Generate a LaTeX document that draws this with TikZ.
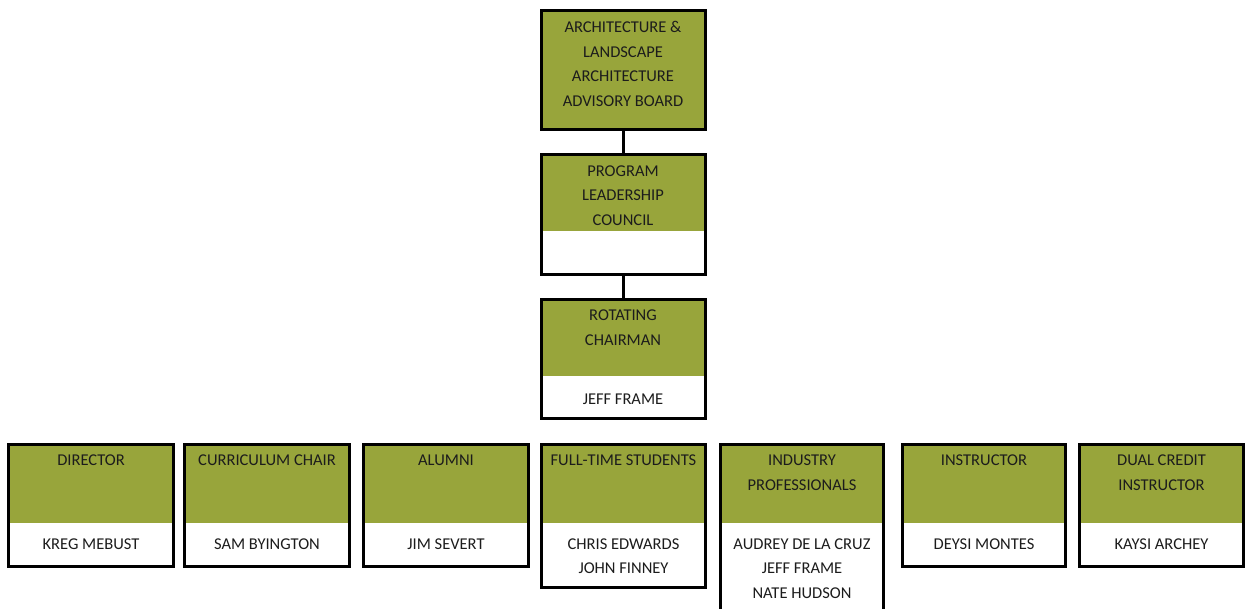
\documentclass[tikz,border=0pt]{standalone}
\usepackage{fontspec}
\setmainfont{Carlito}
\definecolor{board}{RGB}{152,165,59}
\definecolor{ink}{RGB}{28,28,28}
\tikzset{
  orgbox/.style={draw=black, line width=3pt, inner sep=0pt, outer sep=0pt,
    minimum width=164pt},
  band/.style={path picture={\fill[board] (path picture bounding box.north west)
      rectangle ([yshift=-#1pt]path picture bounding box.north east);}},
  % labels are anchored at the baseline of their last line
  label/.style={anchor=base, align=center, inner sep=0pt, text=ink,
    font=\fontsize{16.5}{24.5}\selectfont},
  link/.style={draw=black, line width=3pt}
}
\begin{document}
\begin{tikzpicture}[x=1pt,y=-1pt]
\clip (0,0) rectangle (1251,609);
\fill[white] (0,0) rectangle (1251,609);

% upper chain
\node[orgbox, fill=board, minimum height=119pt] (board) at (623,70) {};
\node[label] (boardT) at (623,106.3) {ARCHITECTURE \&\\LANDSCAPE\\ARCHITECTURE\\ADVISORY BOARD};

\node[orgbox, band=76.5, minimum height=120pt] (plc) at (623,214.5) {};
\node[label] (plcT) at (623,225.5) {PROGRAM\\LEADERSHIP\\COUNCIL};

\node[orgbox, band=76.5, minimum height=119pt] (chair) at (623,359) {};
\node[label] (chairT) at (623,345.2) {ROTATING\\CHAIRMAN};
\node[label] (chairN) at (623,405) {JEFF FRAME};

\draw[link] (board.south) -- (plc.north);
\draw[link] (plc.south) -- (chair.north);

% member row
\node[orgbox, band=78.5, minimum width=165pt, minimum height=122pt] (dir) at (91,505.5) {};
\node[label] (dirT) at (91,465.5) {DIRECTOR};
\node[label] (dirN) at (91,549) {KREG MEBUST};

\node[orgbox, band=78.5, minimum width=165pt, minimum height=122pt] (cur) at (267,505.5) {};
\node[label] (curT) at (267,465.5) {CURRICULUM CHAIR};
\node[label] (curN) at (267,549) {SAM BYINGTON};

\node[orgbox, band=78.5, minimum width=165pt, minimum height=122pt] (alu) at (446,505.5) {};
\node[label] (aluT) at (446,465.5) {ALUMNI};
\node[label] (aluN) at (446,549) {JIM SEVERT};

\node[orgbox, band=78.5, minimum width=164pt, minimum height=143pt] (stu) at (623.5,516) {};
\node[label] (stuT) at (623.5,465.5) {FULL-TIME STUDENTS};
\node[label] (stuN) at (623.5,573.5) {CHRIS EDWARDS\\JOHN FINNEY};

\node[orgbox, band=78.5, minimum width=163pt, minimum height=170pt] (ind) at (802,529.5) {};
\node[label] (indT) at (802,490) {INDUSTRY\\PROFESSIONALS};
\node[label] (indN) at (802,598) {AUDREY DE LA CRUZ\\JEFF FRAME\\NATE HUDSON};

\node[orgbox, band=78.5, minimum width=163pt, minimum height=122pt] (ins) at (984,505.5) {};
\node[label] (insT) at (984,465.5) {INSTRUCTOR};
\node[label] (insN) at (984,549) {DEYSI MONTES};

\node[orgbox, band=78.5, minimum width=164pt, minimum height=122pt] (dual) at (1161.5,505.5) {};
\node[label] (dualT) at (1161.5,490) {DUAL CREDIT\\INSTRUCTOR};
\node[label] (dualN) at (1161.5,549) {KAYSI ARCHEY};
\end{tikzpicture}
\end{document}
